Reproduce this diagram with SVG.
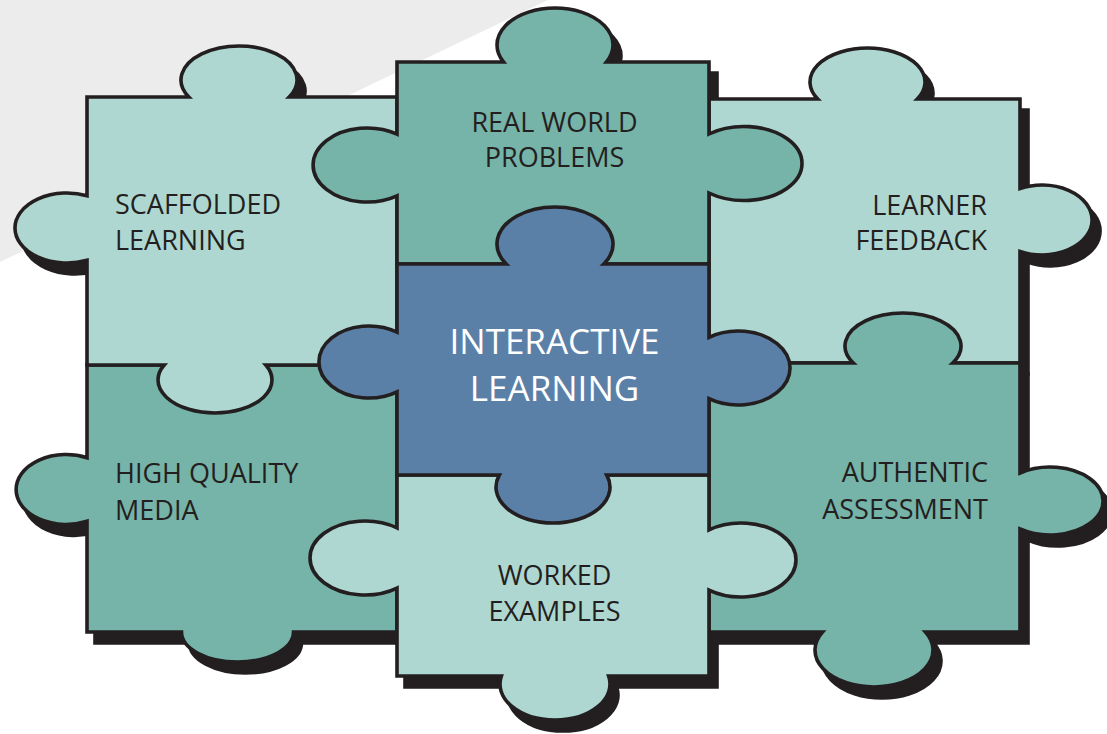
<svg xmlns="http://www.w3.org/2000/svg" xmlns:xlink="http://www.w3.org/1999/xlink" width="1107" height="734" viewBox="0 0 1107 734">
<style>
.pc{stroke:#231f20;stroke-width:3.6;stroke-linejoin:miter}
.light{fill:#aed7d1}
.mid{fill:#76b3a8}
.blue{fill:#5b80a8}
.lbl{font-family:"Open Sans","Liberation Sans",sans-serif;font-size:27px;fill:#231f20}
.ctr{font-family:"Open Sans","Liberation Sans",sans-serif;font-size:35px;fill:#ffffff}
</style>
<defs>
<path id="pSL" d="M 87 97 L 188.8 97 A 58 34 0 1 1 289.2 97 L 397 97 L 397 365 L 265.8 365 A 57 33 0 1 1 164.2 365 L 87 365 L 87 260.3 A 52 35 0 1 1 87 195.7 Z"/>
<path id="pRW" d="M 397 62 L 503.5 62 A 58 37 0 1 1 606.5 62 L 709 62 L 709 134 A 58 37 0 1 1 709 193 L 709 264 L 397 264 L 397 195.8 A 54 37 0 1 1 397 134.2 Z"/>
<path id="pLF" d="M 709 99 L 817.7 99 A 57.5 34 0 1 1 917.3 99 L 1020 99 L 1020 188.6 A 50 35 0 1 1 1020 251.4 L 1020 363 L 709 363 Z"/>
<path id="pIL" d="M 397 264 L 506.2 264 A 58 37 0 1 1 603.8 264 L 709 264 L 709 337.3 A 52 37 0 1 1 709 398.7 L 709 475 L 606.7 475 A 57 36 0 1 1 499.3 475 L 397 475 L 397 391.8 A 50 36 0 1 1 397 332.2 Z"/>
<path id="pHQ" d="M 87 365 L 397 365 L 397 632 L 293.5 632 A 56 30 0 1 1 181.5 632 L 87 632 L 87 521.3 A 50 35 0 1 1 87 457.7 Z"/>
<path id="pWE" d="M 397 475 L 709 475 L 709 529.9 A 55 37 0 1 1 709 590.1 L 709 676 L 608.6 676 A 55 36 0 1 1 501.4 676 L 397 676 L 397 588.1 A 55 37 0 1 1 397 527.9 Z"/>
<path id="pAA" d="M 709 363 L 853.3 363 A 58 33 0 1 1 952.7 363 L 1020 363 L 1020 473 A 53 34 0 1 1 1020 529 L 1020 632 L 925.5 632 A 59 37 0 1 1 822.5 632 L 709 632 Z"/>
</defs>
<rect x="0" y="0" width="1107" height="734" fill="#ffffff"/>
<polygon points="0,0 548,0 0,262" fill="#ececec"/>
<g id="shadow" transform="translate(8,11)" fill="#231f20" stroke="#231f20" stroke-width="3.6">
<use xlink:href="#pSL"/><use xlink:href="#pRW"/><use xlink:href="#pLF"/><use xlink:href="#pIL"/><use xlink:href="#pHQ"/><use xlink:href="#pWE"/><use xlink:href="#pAA"/>
</g>
<g id="connectors"></g>
<g id="high-quality-media">
<use xlink:href="#pHQ" class="pc mid"/>
<text class="lbl" x="115" y="483">HIGH QUALITY</text>
<text class="lbl" x="115" y="520">MEDIA</text>
</g>
<g id="scaffolded-learning">
<use xlink:href="#pSL" class="pc light"/>
<text class="lbl" x="115" y="214">SCAFFOLDED</text>
<text class="lbl" x="115" y="250">LEARNING</text>
</g>
<g id="learner-feedback">
<use xlink:href="#pLF" class="pc light"/>
<text class="lbl" x="987" y="215" text-anchor="end">LEARNER</text>
<text class="lbl" x="987" y="250" text-anchor="end">FEEDBACK</text>
</g>
<g id="authentic-assessment">
<use xlink:href="#pAA" class="pc mid"/>
<text class="lbl" x="988" y="482" text-anchor="end">AUTHENTIC</text>
<text class="lbl" x="988" y="519" text-anchor="end">ASSESSMENT</text>
</g>
<g id="real-world-problems">
<use xlink:href="#pRW" class="pc mid"/>
<text class="lbl" x="554.5" y="132" text-anchor="middle">REAL WORLD</text>
<text class="lbl" x="554.5" y="167" text-anchor="middle">PROBLEMS</text>
</g>
<g id="worked-examples">
<use xlink:href="#pWE" class="pc light"/>
<text class="lbl" x="554.5" y="585" text-anchor="middle">WORKED</text>
<text class="lbl" x="554.5" y="621" text-anchor="middle">EXAMPLES</text>
</g>
<g id="interactive-learning">
<use xlink:href="#pIL" class="pc blue"/>
<text class="ctr" x="554.5" y="354" text-anchor="middle">INTERACTIVE</text>
<text class="ctr" x="554.5" y="401" text-anchor="middle">LEARNING</text>
</g>
</svg>
